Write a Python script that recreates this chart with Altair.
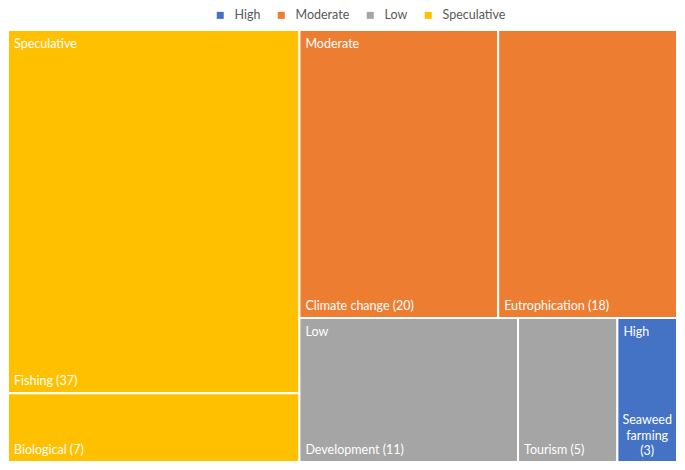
import altair as alt
import pandas as pd

# ---- data ----
group_names = ["Speculative", "Moderate", "Low", "High"]
legend_order = ["High", "Moderate", "Low", "Speculative"]
legend_colors = ["#4472C4", "#ED7D31", "#A5A5A5", "#FFC000"]
leaf_names = ["Fishing", "Biological", "Climate change", "Eutrophication",
              "Development", "Tourism", "Seaweed farming"]
leaf_groups = ["Speculative", "Speculative", "Moderate", "Moderate",
               "Low", "Low", "High"]
leaf_values = [37, 7, 20, 18, 11, 5, 3]

W, H = 669, 432
FONT = "Lato"
LINE_H = 15.5


def worst(row, short):
    s = sum(row)
    return max(max(short * short * r / (s * s), (s * s) / (short * short * r)) for r in row)


def squarify(sizes, x, y, w, h):
    total = sum(sizes)
    areas = [v * w * h / total for v in sizes]
    rects = []
    rem = areas[:]
    while rem:
        short = min(w, h)
        row = [rem[0]]
        i = 1
        while i < len(rem) and worst(row + [rem[i]], short) <= worst(row, short):
            row.append(rem[i])
            i += 1
        s = sum(row)
        if w >= h:
            cw = s / h
            yy = y
            for a in row:
                rh = a / cw
                rects.append((x, yy, cw, rh))
                yy += rh
            x += cw
            w -= cw
        else:
            rh = s / w
            xx = x
            for a in row:
                rw = a / rh
                rects.append((xx, y, rw, rh))
                xx += rw
            y += rh
            h -= rh
        rem = rem[len(row):]
    return rects


group_totals = [sum(v for v, g in zip(leaf_values, leaf_groups) if g == gn) for gn in group_names]
group_rects = squarify(group_totals, 0, 0, W, H)

rows = []
grows = []
for gn, gr in zip(group_names, group_rects):
    idx = [i for i, g in enumerate(leaf_groups) if g == gn]
    rs = squarify([leaf_values[i] for i in idx], *gr)
    grows.append({"group": gn, "x": gr[0], "y": gr[1]})
    for i, r in zip(idx, rs):
        label = f"{leaf_names[i]} ({leaf_values[i]})"
        wrap = len(label) * 6.0 > r[2] - 12
        lines = label.split(" ") if wrap else [label]
        rows.append({
            "name": leaf_names[i], "group": gn, "value": leaf_values[i],
            "x": r[0], "x2": r[0] + r[2], "y": r[1], "y2": r[1] + r[3],
            "xc": r[0] + r[2] / 2,
            "ytext": r[1] + r[3] - (len(lines) - 1) * LINE_H,
            "label": label, "lines": lines,
            "wrap": wrap,
        })

df = pd.DataFrame(rows)
gdf = pd.DataFrame(grows)

xs = alt.Scale(domain=[0, W], nice=False, zero=False)
ys = alt.Scale(domain=[0, H], nice=False, zero=False, reverse=True)

color = alt.Color(
    "group:N",
    scale=alt.Scale(domain=legend_order, range=legend_colors),
    legend=alt.Legend(
        orient="none", legendX=206, legendY=-21, direction="horizontal",
        title=None, symbolType="square", symbolSize=49, symbolStrokeWidth=0,
        labelFont=FONT, labelFontSize=12.5, labelColor="#595959",
        labelOffset=8, columnPadding=14,
    ),
)

rects = alt.Chart(df).mark_rect(stroke="white", strokeWidth=2).encode(
    x=alt.X("x:Q", scale=xs, axis=None),
    x2="x2:Q",
    y=alt.Y("y:Q", scale=ys, axis=None),
    y2="y2:Q",
    color=color,
    tooltip=["name:N", "group:N", "value:Q"],
)

group_labels = alt.Chart(gdf).mark_text(
    align="left", baseline="alphabetic", dx=6, dy=18,
    font=FONT, fontSize=12.5, color="white",
).encode(
    x=alt.X("x:Q", scale=xs, axis=None),
    y=alt.Y("y:Q", scale=ys, axis=None),
    text="group:N",
)

leaf_labels = alt.Chart(df).transform_filter("!datum.wrap").mark_text(
    align="left", baseline="alphabetic", dx=6, dy=-8,
    font=FONT, fontSize=12.5, color="white",
).encode(
    x=alt.X("x:Q", scale=xs, axis=None),
    y=alt.Y("y2:Q", scale=ys, axis=None),
    text="label:N",
)

wrap_labels = alt.Chart(df).transform_filter("datum.wrap").mark_text(
    align="center", baseline="alphabetic", dy=-7, lineHeight=LINE_H,
    font=FONT, fontSize=12.5, color="white",
).encode(
    x=alt.X("xc:Q", scale=xs, axis=None),
    y=alt.Y("ytext:Q", scale=ys, axis=None),
    text="lines",
)

chart = alt.layer(rects, group_labels, leaf_labels, wrap_labels).properties(
    width=W, height=H,
    padding={"left": 0, "top": 22, "right": 0, "bottom": 0},
    autosize=alt.AutoSizeParams(type="none"),
).configure_view(stroke=None)

chart.save("out.html", embed_options={"renderer": "svg", "actions": False})
